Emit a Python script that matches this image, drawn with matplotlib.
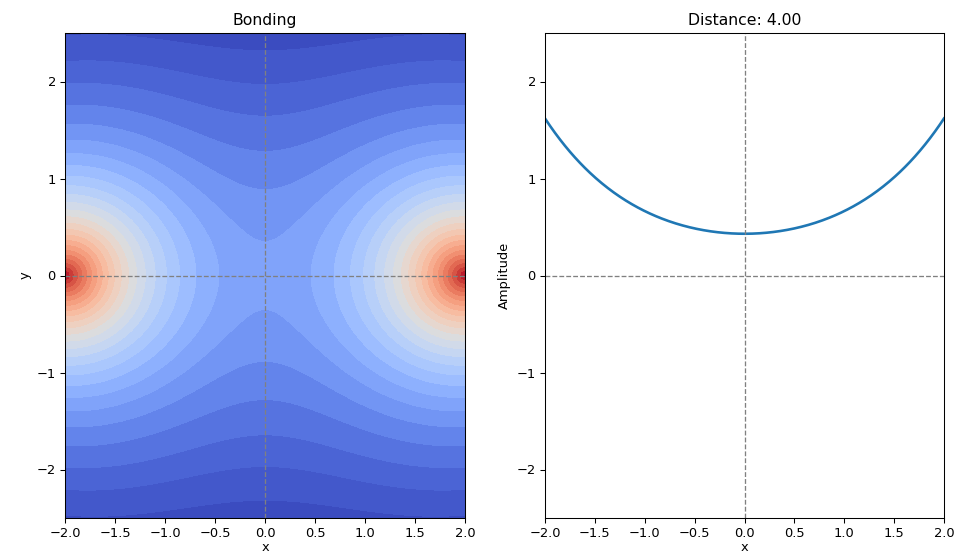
import numpy as np
import matplotlib
matplotlib.use("Agg")
import matplotlib.pyplot as plt

# Parameters of the bonding orbital
nuclei_x = [-2.0, 2.0]          # nucleus positions (distance 4.00)
amplitude_scale = 1.59          # peak amplitude scale
decay = 1.0                     # 1s decay constant
x_limits = [-2.0, 2.0]
y_limits = [-2.5, 2.5]
x_ticks = [-2.0, -1.5, -1.0, -0.5, 0.0, 0.5, 1.0, 1.5, 2.0]
y_ticks = [-2, -1, 0, 1, 2]
# contour boundaries
contour_levels = [0.10, 0.149, 0.192, 0.239, 0.296, 0.357, 0.4175, 0.477,
                  0.537, 0.597, 0.657, 0.717, 0.777, 0.837, 0.897, 0.957,
                  1.017, 1.077, 1.137, 1.197, 1.257, 1.317, 1.377, 1.437,
                  1.497, 1.557, 1.617, 1.677]
distance = nuclei_x[1] - nuclei_x[0]

DPI = 94
fig = plt.figure(figsize=(955 / DPI, 555 / DPI), dpi=DPI)

x = np.linspace(x_limits[0], x_limits[1], 401)
y = np.linspace(y_limits[0], y_limits[1], 401)
X, Y = np.meshgrid(x, y)


def psi(px, py):
    total = 0.0
    for cx in nuclei_x:
        total = total + np.exp(-decay * np.sqrt((px - cx) ** 2 + py ** 2))
    return amplitude_scale * total


Z = psi(X, Y)
line_vals = psi(x, 0.0)

ax1 = fig.add_axes([65 / 955, 1 - 518 / 555, 400 / 955, 485 / 555])
ax2 = fig.add_axes([545 / 955, 1 - 518 / 555, 399 / 955, 485 / 555])

ax1.contourf(X, Y, Z, levels=contour_levels, cmap="coolwarm",
             vmin=Z.min(), vmax=Z.max())
ax1.axhline(0, color="gray", ls="--", lw=1)
ax1.axvline(0, color="gray", ls="--", lw=1)
ax1.set_xlim(x_limits)
ax1.set_ylim(y_limits)
ax1.set_xticks(x_ticks)
ax1.set_yticks(y_ticks)
ax1.set_title("Bonding")
ax1.set_xlabel("x", labelpad=1)
ax1.set_ylabel("y")

ax2.plot(x, line_vals, color="#1f77b4", lw=2)
ax2.axhline(0, color="gray", ls="--", lw=1)
ax2.axvline(0, color="gray", ls="--", lw=1)
ax2.set_xlim(x_limits)
ax2.set_ylim(y_limits)
ax2.set_xticks(x_ticks)
ax2.set_yticks(y_ticks)
ax2.set_title(f"Distance: {distance:.2f}")
ax2.set_xlabel("x", labelpad=1)
ax2.set_ylabel("Amplitude")

fig.savefig("out.png", dpi=DPI)
